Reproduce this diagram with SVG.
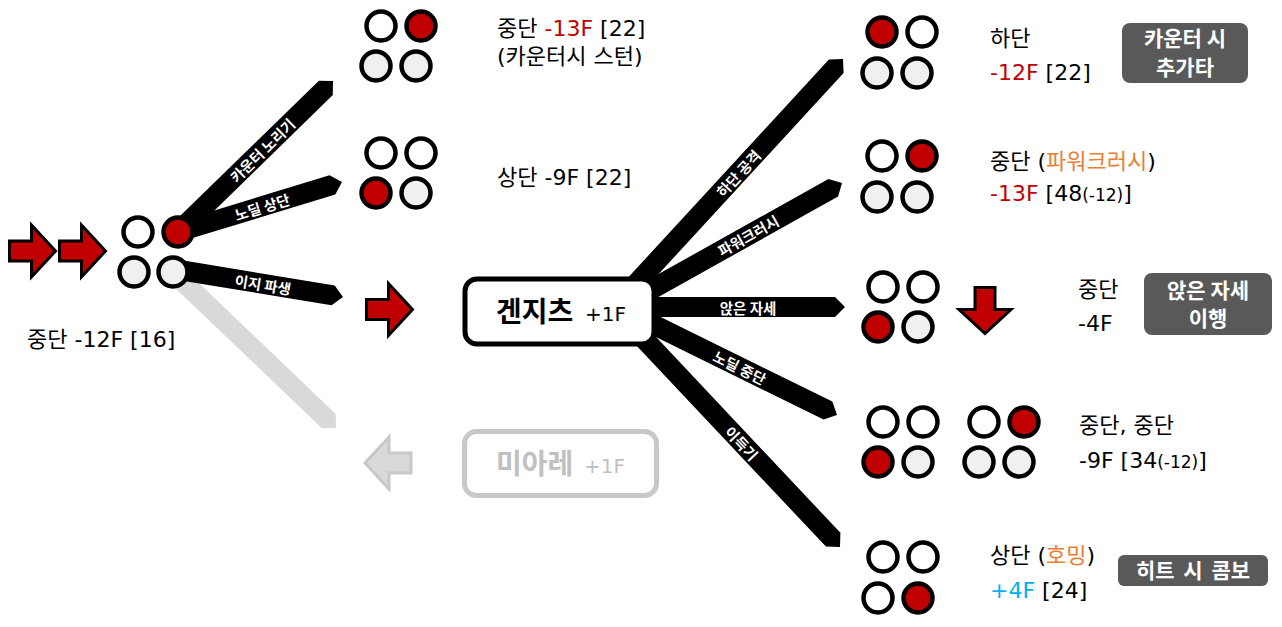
<svg xmlns="http://www.w3.org/2000/svg" width="1282" height="627" viewBox="0 0 1282 627">
<style>
.t{font-family:'DejaVu Sans','Noto Sans CJK KR',sans-serif;font-size:22px;fill:#000}
.r{fill:#c00000}
.o{fill:#ed7d31}
.b{fill:#00b0f0}
.s{font-size:17px}
.lbl{font-family:'Noto Sans CJK KR',sans-serif;font-size:14.5px;font-weight:700;fill:#fff;text-anchor:middle;dominant-baseline:central}
.bx{fill:#595959}
.bt{font-family:'Noto Sans CJK KR',sans-serif;font-size:21px;font-weight:700;fill:#fff;text-anchor:middle}
circle{stroke:#000;stroke-width:4.5}
.w{fill:#fff}.g{fill:#f0f0f0}.k{fill:#c00000}
.arr{fill:#c00000;stroke:#000;stroke-width:3}
.strip{fill:#000}
.big{font-family:'Noto Sans CJK KR',sans-serif;font-size:28px;font-weight:700}
.sm{font-family:'DejaVu Sans',sans-serif;font-size:20px}
</style>
<defs>
<polygon id="ar" points="0,-10 22,-10 22,-26 46,0 22,26 22,10 0,10"/>
</defs>
<rect width="1282" height="627" fill="#fff"/>

<g id="connectors">
<polygon fill="#d9d9d9" points="179.9,264.8 335.7,413.9 336,428 321.9,428.3 166.1,279.2"/>
<polygon class="strip" points="171,224.8 318.9,80.8 333,81 332.8,95.1 185,239.2"/>
<polygon class="strip" points="175.1,222.4 329.5,175.3 342,182 335.3,194.5 180.9,241.6"/>
<polygon class="strip" points="174.6,259.1 334.7,285.5 343,297 331.5,305.3 171.4,278.9"/>
<polygon class="strip" points="602.6,305.2 828.9,59.6 843,59 843.6,73.1 617.4,318.8"/>
<polygon class="strip" points="615.1,298.3 828.4,179.1 842,183 838.1,196.6 624.9,315.7"/>
<polygon class="strip" points="620,297 835,297 845,307 835,317 620,317"/>
<polygon class="strip" points="644.4,309 832.4,401.6 837,415 823.6,419.5 635.6,327"/>
<polygon class="strip" points="637.3,317.1 840.4,532.8 840,547 825.9,546.6 622.7,330.9"/>
<text class="lbl" transform="translate(262,150) rotate(-44.3)">카운터 노리기</text>
<text class="lbl" transform="translate(262,206.4) rotate(-17)">노딜 상단</text>
<text class="lbl" transform="translate(263,284) rotate(9.4)">이지 파생</text>
<text class="lbl" transform="translate(738,173) rotate(-47.4)">하단 공격</text>
<text class="lbl" transform="translate(748,235) rotate(-29.2)">파워크러시</text>
<text class="lbl" transform="translate(748,307)">앉은 자세</text>
<text class="lbl" transform="translate(740,367) rotate(26.2)">노딜 중단</text>
<text class="lbl" transform="translate(742,443) rotate(46.8)">이득기</text>
</g>

<g id="arrows">
<use href="#ar" class="arr" transform="translate(9.5,251)"/>
<use href="#ar" class="arr" transform="translate(59.5,251)"/>
<use href="#ar" class="arr" transform="translate(366.5,309.5)"/>
<use href="#ar" transform="translate(411,463) scale(-1,1)" fill="#d9d9d9" stroke="#c8c8c8" stroke-width="3"/>
<use href="#ar" class="arr" transform="translate(985,287.5) rotate(90)"/>
</g>

<g id="start">
<g transform="translate(138,232)"><circle r="14.5" class="w"/><circle cx="40" r="14.5" class="k"/><circle cx="-4" cy="40" r="14.5" class="g"/><circle cx="35" cy="40" r="14.5" class="g"/></g>
<text class="t" x="27" y="347">중단 -12F [16]</text>
</g>

<g id="counter-mid">
<g transform="translate(381,26)"><circle r="14.5" class="w"/><circle cx="40" r="14.5" class="k"/><circle cx="-5" cy="40" r="14.5" class="g"/><circle cx="35" cy="40" r="14.5" class="g"/></g>
<text class="t" x="497" y="36">중단 <tspan class="r">-13F</tspan> [22]</text>
<text class="t" x="497" y="64">(카운터시 스턴)</text>
</g>

<g id="nodeal-high">
<g transform="translate(381,153)"><circle r="14.5" class="w"/><circle cx="40" r="14.5" class="w"/><circle cx="-5" cy="40" r="14.5" class="k"/><circle cx="35" cy="40" r="14.5" class="g"/></g>
<text class="t" x="497" y="185">상단 -9F [22]</text>
</g>

<g id="genjitsu">
<rect x="465" y="279" width="189" height="65" rx="12" fill="#fff" stroke="#000" stroke-width="5"/>
<text class="big" x="496" y="322">겐지츠</text>
<text class="sm" x="585" y="321">+1F</text>
</g>

<g id="miare">
<rect x="464.5" y="431.5" width="192" height="64" rx="12" fill="#fff" stroke="#c8c8c8" stroke-width="5"/>
<text class="big" x="496" y="474" fill="#c0c0c0">미아레</text>
<text class="sm" x="584" y="473" fill="#c0c0c0">+1F</text>
</g>

<g id="low-attack">
<g transform="translate(882,32)"><circle r="14.5" class="k"/><circle cx="40" r="14.5" class="w"/><circle cx="-5" cy="41" r="14.5" class="g"/><circle cx="35" cy="41" r="14.5" class="g"/></g>
<text class="t" x="990" y="46">하단</text>
<text class="t" x="990" y="80"><tspan class="r">-12F</tspan> [22]</text>
<rect class="bx" x="1122" y="23" width="126" height="60" rx="8"/>
<text class="bt" x="1185" y="46">카운터 시</text>
<text class="bt" x="1185" y="75">추가타</text>
</g>

<g id="power-crush">
<g transform="translate(882,156)"><circle r="14.5" class="w"/><circle cx="40" r="14.5" class="k"/><circle cx="-5" cy="41" r="14.5" class="g"/><circle cx="35" cy="41" r="14.5" class="g"/></g>
<text class="t" x="990" y="169">중단 (<tspan class="o">파워크러시</tspan>)</text>
<text class="t" x="990" y="201"><tspan class="r">-13F</tspan> [48<tspan class="s">(-12)</tspan>]</text>
</g>

<g id="crouch">
<g transform="translate(883,287)"><circle r="14.5" class="w"/><circle cx="40" r="14.5" class="w"/><circle cx="-5" cy="40" r="14.5" class="k"/><circle cx="35" cy="40" r="14.5" class="g"/></g>
<text class="t" x="1078" y="297">중단</text>
<text class="t" x="1078" y="331">-4F</text>
<rect class="bx" x="1144" y="273" width="128" height="62" rx="8"/>
<text class="bt" x="1208" y="298">앉은 자세</text>
<text class="bt" x="1208" y="326">이행</text>
</g>

<g id="nodeal-mid">
<g transform="translate(883,422)"><circle r="14.5" class="w"/><circle cx="40" r="14.5" class="w"/><circle cx="-5" cy="40" r="14.5" class="k"/><circle cx="35" cy="40" r="14.5" class="g"/></g>
<g transform="translate(984,422)"><circle r="14.5" class="w"/><circle cx="40" r="14.5" class="k"/><circle cx="-5" cy="40" r="14.5" class="g"/><circle cx="35" cy="40" r="14.5" class="g"/></g>
<text class="t" x="1079" y="433">중단, 중단</text>
<text class="t" x="1079" y="468">-9F [34<tspan class="s">(-12)</tspan>]</text>
</g>

<g id="advantage">
<g transform="translate(883,557)"><circle r="14.5" class="w"/><circle cx="40" r="14.5" class="w"/><circle cx="-5" cy="41" r="14.5" class="w"/><circle cx="35" cy="41" r="14.5" class="k"/></g>
<text class="t" x="990" y="563">상단 (<tspan class="o">호밍</tspan>)</text>
<text class="t" x="990" y="598"><tspan class="b">+4F</tspan> [24]</text>
<rect class="bx" x="1118" y="555" width="150" height="31" rx="6"/>
<text class="bt" x="1193" y="578" font-size="22" word-spacing="4">히트 시 콤보</text>
</g>
</svg>
